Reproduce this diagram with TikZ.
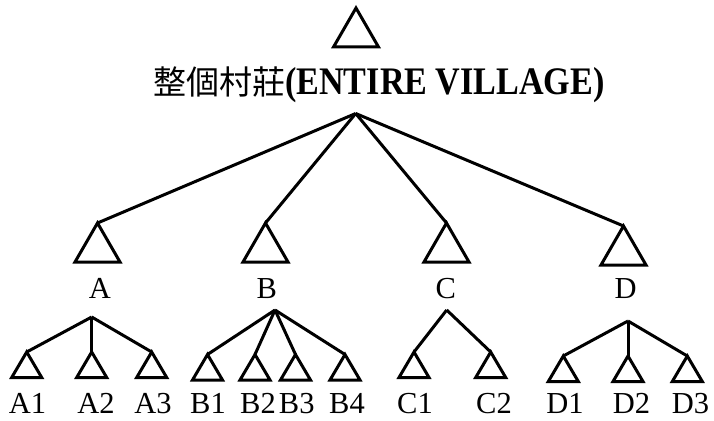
\documentclass[tikz,border=0pt]{standalone}
\usepackage{fontspec}
\setmainfont{Liberation Serif}
\newfontfamily\cjk{Noto Sans CJK TC}
\begin{document}
\begin{tikzpicture}[x=1pt,y=-1pt,line width=3pt,line join=miter,
  lbl/.style={anchor=base,inner sep=0pt,font=\fontsize{30.5}{30.5}\selectfont},
]
\useasboundingbox (0,0) rectangle (714,420);
% triangle apexes
\coordinate (T) at (356,8);
\coordinate (A) at (97.5,223);
\coordinate (B) at (265.5,223);
\coordinate (C) at (446.5,223);
\coordinate (D) at (623.5,226);
\coordinate (A1) at (26.7,352);
\coordinate (A2) at (91.7,352);
\coordinate (A3) at (151.7,352);
\coordinate (B1) at (207.5,354.5);
\coordinate (B2) at (255,354.5);
\coordinate (B3) at (295.5,354.5);
\coordinate (B4) at (345,354.5);
\coordinate (C1) at (414,352);
\coordinate (C2) at (490.7,352);
\coordinate (D1) at (563.3,356);
\coordinate (D2) at (628,356);
\coordinate (D3) at (687.3,356);
% fan points
\coordinate (fT) at (355.7,113.5);
\coordinate (fA) at (91.7,317);
\coordinate (fB) at (275,310);
\coordinate (fC) at (446.7,310);
\coordinate (fD) at (628,321);
% big triangles
\foreach \n in {T,A,B,C,D}
  \draw (\n) -- ++(-22.5,39) -- ++(45,0) -- cycle;
% small triangles
\foreach \n in {A1,A2,A3,B1,B2,B3,B4,C1,C2,D1,D2,D3}
  \draw (\n) -- ++(-15,25.5) -- ++(30,0) -- cycle;
% title
\node[anchor=base west,inner sep=0pt] (title) at (151.7,94)
  {{\cjk\fontsize{33}{33}\selectfont 整個村莊}{\bfseries\fontsize{39}{39}\selectfont\scalebox{0.875}[1]{(ENTIRE VILLAGE)}}};
% connectors
\foreach \c in {A,B,C,D} \draw (fT) -- (\c);
\foreach \c in {A1,A2,A3} \draw (fA) -- (\c);
\foreach \c in {B1,B2,B3,B4} \draw (fB) -- (\c);
\foreach \c in {C1,C2} \draw (fC) -- (\c);
\foreach \c in {D1,D2,D3} \draw (fD) -- (\c);
% mid labels
\node[lbl] (lA) at (100,298) {A};
\node[lbl] (lB) at (266.7,298) {B};
\node[lbl] (lC) at (445.7,298) {C};
\node[lbl] (lD) at (625.7,298) {D};
% bottom labels
\node[lbl] (lA1) at (27.5,413) {A1};
\node[lbl] (lA2) at (96,413) {A2};
\node[lbl] (lA3) at (153,413) {A3};
\node[lbl] (lB1) at (208,413) {B1};
\node[lbl] (lB2) at (258,413) {B2};
\node[lbl] (lB3) at (296.7,413) {B3};
\node[lbl] (lB4) at (347,413) {B4};
\node[lbl] (lC1) at (415,413) {C1};
\node[lbl] (lC2) at (494,413) {C2};
\node[lbl] (lD1) at (565,413) {D1};
\node[lbl] (lD2) at (631.5,413) {D2};
\node[lbl] (lD3) at (690.5,413) {D3};
\end{tikzpicture}
\end{document}
